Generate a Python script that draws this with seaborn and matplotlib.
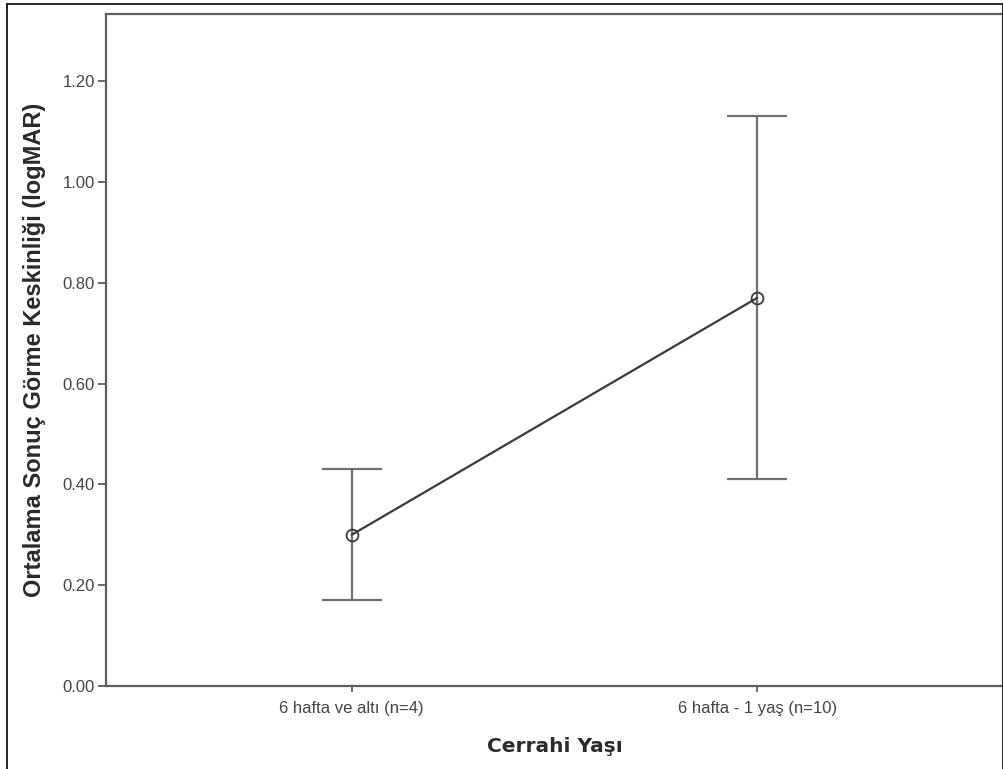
import numpy as np
import pandas as pd
import matplotlib
matplotlib.use('Agg')
import matplotlib.pyplot as plt
import seaborn as sns
from matplotlib.patches import Rectangle

# summary values (mean with 95% CI)
groups = ['6 hafta ve altı (n=4)', '6 hafta - 1 yaş (n=10)']
means = [0.30, 0.77]
ci_low = [0.17, 0.41]
ci_high = [0.43, 1.13]
y_ticks = [0.0, 0.2, 0.4, 0.6, 0.8, 1.0, 1.2]


def main():
    sns.set_style('white')
    plt.rcParams['font.family'] = ['Liberation Sans', 'DejaVu Sans']

    df = pd.DataFrame({'group': groups, 'mean': means, 'lo': ci_low, 'hi': ci_high})

    fig = plt.figure(figsize=(10.04, 7.69), dpi=100)
    ax = fig.add_axes([106 / 1004, 83 / 769, 897 / 1004, 672 / 769])

    # error bars (CI)
    xpos = np.arange(len(df))
    yerr = [df['mean'] - df['lo'], df['hi'] - df['mean']]
    ax.errorbar(xpos, df['mean'], yerr=yerr, fmt='none', ecolor='#707070',
                elinewidth=1.6, capsize=21.5, capthick=1.6, zorder=2)

    # mean points joined by a line
    sns.pointplot(data=df, x='group', y='mean', errorbar=None, color='#3a3a3a',
                  markers='o', markersize=8.5, markerfacecolor='none',
                  markeredgewidth=1.3, linewidth=1.6, ax=ax, zorder=3)

    ax.set_xlim(-0.606, 1.606)
    ax.set_ylim(0, 1.333)
    ax.set_yticks(y_ticks)
    ax.set_yticklabels(['%.2f' % v for v in y_ticks])

    for sp in ax.spines.values():
        sp.set_visible(True)
        sp.set_color('#5e5e5e')
        sp.set_linewidth(1.6)

    ax.tick_params(axis='y', direction='out', length=6, width=1.3, color='#5e5e5e',
                   labelsize=12, labelcolor='#444444', pad=2, left=True)
    ax.tick_params(axis='x', direction='out', length=4, width=1.3, color='#5e5e5e',
                   labelsize=12, labelcolor='#444444', pad=7, bottom=True)

    ax.set_xlabel('Cerrahi Yaşı', fontsize=14.5, fontweight='bold', color='#2a2a2a',
                  labelpad=15, family=['DejaVu Sans'])
    ax.set_ylabel('Ortalama Sonuç Görme Keskinliği (logMAR)', fontsize=17,
                  fontweight='bold', color='#2a2a2a', labelpad=12)

    # outer frame around the whole figure
    fig.patches.append(Rectangle((7.5 / 1004, -0.01), (1003 - 7.5) / 1004, 1.01 - 4 / 769,
                                 transform=fig.transFigure, fill=False,
                                 edgecolor='#222222', linewidth=1.4))

    fig.savefig('out.png', dpi=100)


if __name__ == '__main__':
    main()
